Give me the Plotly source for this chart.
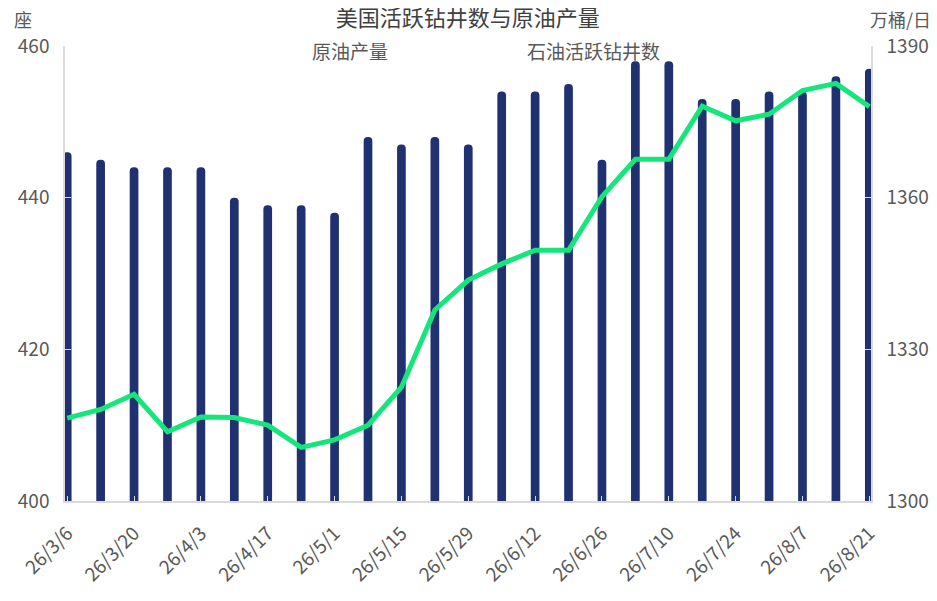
import plotly.graph_objects as go

# 周度数据（26年3月6日 - 8月21日）
dates = ['26/3/6', '26/3/13', '26/3/20', '26/3/27', '26/4/3', '26/4/10', '26/4/17',
         '26/4/24', '26/5/1', '26/5/8', '26/5/15', '26/5/22', '26/5/29', '26/6/5',
         '26/6/12', '26/6/19', '26/6/26', '26/7/3', '26/7/10', '26/7/17', '26/7/24',
         '26/7/31', '26/8/7', '26/8/14', '26/8/21']

# 石油活跃钻井数（座）
rig_count = [446, 445, 444, 444, 444, 440, 439, 439, 438, 448, 447, 448, 447,
             454, 454, 455, 445, 458, 458, 453, 453, 454, 454, 456, 457]

# 原油产量（万桶/日）
oil_output = [1316.4, 1318.1, 1321.1, 1313.7, 1316.6, 1316.5, 1315.0, 1310.6, 1312.1,
              1315.0, 1322.5, 1337.8, 1343.7, 1346.9, 1349.6, 1349.6, 1360.2, 1367.6,
              1367.6, 1378.1, 1375.2, 1376.5, 1381.2, 1382.6, 1378.0]

BAR_COLOR = '#1f3170'
LINE_COLOR = '#14e67b'
TEXT = '#595959'
AXIS = '#d9d9d9'
FONT = 'Noto Sans CJK SC'

fig = go.Figure()

fig.add_trace(go.Bar(
    x=dates, y=rig_count, name='石油活跃钻井数',
    marker=dict(color=BAR_COLOR, cornerradius=4, line=dict(width=0)),
    width=0.26, yaxis='y'
))

fig.add_trace(go.Scatter(
    x=dates, y=oil_output, name='原油产量', mode='lines',
    line=dict(color=LINE_COLOR, width=5), yaxis='y2'
))

# the page body has an 8px margin, so the figure is sized to fit inside it
fig.update_layout(
    width=929, height=593,
    margin=dict(l=57, r=66, t=38, b=100, autoexpand=False),
    paper_bgcolor='white', plot_bgcolor='white',
    font=dict(family=FONT, color=TEXT, size=18),
    showlegend=False,
    title=dict(text='美国活跃钻井数与原油产量', x=0.495, xref='container',
               y=0.9823, yanchor='middle', font=dict(size=22, color='#404040')),
    xaxis=dict(
        type='category', range=[-0.066, 24.05], automargin=False,
        tickmode='array', tickvals=dates[::2], tickangle=-45,
        ticks='inside', ticklen=5, tickcolor=AXIS,
        showline=True, linecolor=AXIS, linewidth=1.5,
        showgrid=False, ticklabelstandoff=12,
        tickfont=dict(size=19, color=TEXT)
    ),
    yaxis=dict(
        range=[400, 460], tickvals=[400, 420, 440, 460], automargin=False,
        ticks='inside', ticklen=6, tickcolor=AXIS,
        showline=True, linecolor=AXIS, linewidth=1.5,
        showgrid=False, zeroline=False, ticklabelstandoff=10,
        tickfont=dict(size=19, color=TEXT)
    ),
    yaxis2=dict(
        range=[1300, 1390], tickvals=[1300, 1330, 1360, 1390],
        overlaying='y', side='right', automargin=False,
        ticks='inside', ticklen=6, tickcolor=AXIS,
        showline=True, linecolor=AXIS, linewidth=1.5,
        showgrid=False, zeroline=False, ticklabelstandoff=10,
        tickfont=dict(size=19, color=TEXT)
    ),
)

# 单位与图例文字
notes = [
    ('座', -0.0515, 1.0604, 18),
    ('万桶/日', 1.036, 1.0604, 18),
    ('原油产量', 0.353, 0.991, 19),
    ('石油活跃钻井数', 0.656, 0.991, 19),
]
for text, x, y, size in notes:
    fig.add_annotation(text=text, x=x, y=y, xref='paper', yref='paper',
                       xanchor='center', yanchor='middle', showarrow=False,
                       font=dict(size=size, color=TEXT, family=FONT))

fig.write_html('out.html')
